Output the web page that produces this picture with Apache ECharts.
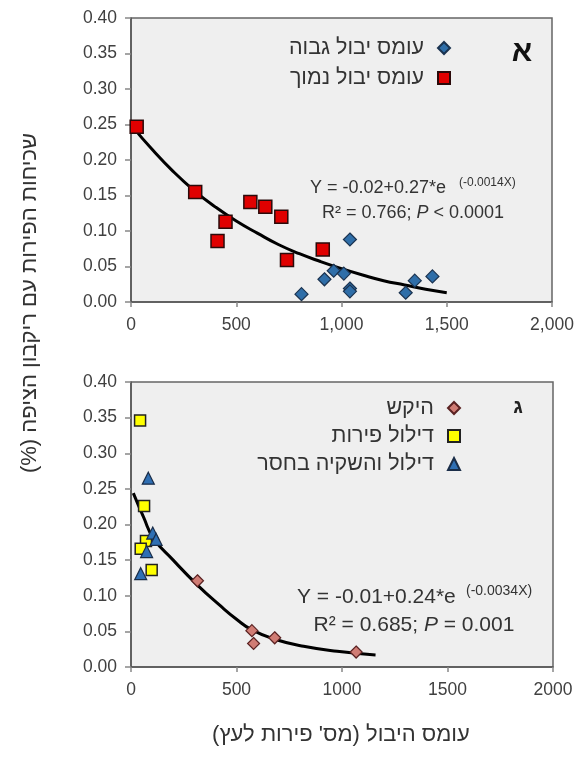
<!DOCTYPE html>
<html>
<head>
<meta charset="utf-8">
<script src="https://cdn.jsdelivr.net/npm/echarts@6/dist/echarts.min.js"></script>
<style>
html,body{margin:0;padding:0;background:#fff;}
#c{width:584px;height:761px;}
</style>
</head>
<body>
<div id="c"></div>
<script>
// ---- Panel A (top) data ----
const highYieldX = [810, 919, 963, 1011, 1040, 1040, 1040, 1305, 1348, 1432];
const highYieldY = [0.011, 0.032, 0.044, 0.040, 0.088, 0.019, 0.015, 0.013, 0.030, 0.036];
const lowYieldX = [27, 305, 411, 449, 567, 638, 714, 741, 911];
const lowYieldY = [0.247, 0.155, 0.086, 0.113, 0.141, 0.134, 0.120, 0.059, 0.074];
const fitTopX = [10, 100, 200, 300, 400, 500, 600, 700, 800, 900, 1000, 1100, 1200, 1300, 1400, 1500];
const fitTopY = [0.246, 0.215, 0.184, 0.157, 0.134, 0.114, 0.097, 0.081, 0.068, 0.057, 0.047, 0.038, 0.030, 0.024, 0.018, 0.013];

// ---- Panel G (bottom) data ----
const controlX = [315, 573, 581, 681, 1067];
const controlY = [0.121, 0.051, 0.033, 0.041, 0.021];
const thinningX = [43, 62, 71, 46, 98];
const thinningY = [0.346, 0.226, 0.177, 0.166, 0.136];
const thinDeficitX = [82, 103, 119, 74, 46];
const thinDeficitY = [0.265, 0.188, 0.179, 0.162, 0.131];
const fitBottomX = [11, 60, 106, 200, 315, 423, 500, 573, 681, 818, 977, 1159];
const fitBottomY = [0.244, 0.210, 0.181, 0.150, 0.115, 0.086, 0.067, 0.052, 0.039, 0.029, 0.022, 0.017];

// ---- tick labels ----
const yTickLabels = ['0.00', '0.05', '0.10', '0.15', '0.20', '0.25', '0.30', '0.35', '0.40'];
const xTickLabelsTop = ['0', '500', '1,000', '1,500', '2,000'];
const xTickLabelsBottom = ['0', '500', '1000', '1500', '2000'];

// ---- text ----
const seriesNames = ['עומס יבול גבוה', 'עומס יבול נמוך', 'היקש', 'דילול פירות', 'דילול והשקיה בחסר'];
const yTitle = 'שכיחות הפירות עם ריקבון הציפה (%)\u200F';
const xTitle = 'עומס היבול (מס\' פירות לעץ)\u200F';

const zip = (xs, ys) => xs.map((x, i) => [x, ys[i]]);
const FONT = 'Liberation Sans, Arial, sans-serif';
const TXT = '#404040';

function xAxisCfg(idx, labels) {
  return {
    gridIndex: idx, type: 'value', min: 0, max: 2000, interval: 500,
    axisLine: {show: true, lineStyle: {color: '#555', width: 1.5}},
    axisTick: {show: true, length: 5, lineStyle: {color: '#888', width: 1.5}},
    splitLine: {show: false},
    axisLabel: {color: TXT, fontFamily: FONT, fontSize: 17.5, margin: 14,
      formatter: v => labels[Math.round(v / 500)]}
  };
}
function yAxisCfg(idx) {
  return {
    gridIndex: idx, type: 'value', min: 0, max: 0.4, interval: 0.05,
    axisLine: {show: true, lineStyle: {color: '#555', width: 1.5}},
    axisTick: {show: true, length: 6, lineStyle: {color: '#888', width: 1.5}},
    splitLine: {show: false},
    axisLabel: {color: TXT, fontFamily: FONT, fontSize: 17.5, margin: 14,
      formatter: v => yTickLabels[Math.round(v / 0.05)]}
  };
}

const chart = echarts.init(document.getElementById('c'), null, {renderer: 'canvas'});
chart.setOption({
  backgroundColor: '#fff',
  animation: false,
  grid: [
    {left: 131, top: 18, width: 421, height: 284, show: true, backgroundColor: '#efefef', borderColor: '#666', borderWidth: 1.5},
    {left: 131, top: 382, width: 422, height: 285, show: true, backgroundColor: '#efefef', borderColor: '#666', borderWidth: 1.5}
  ],
  xAxis: [xAxisCfg(0, xTickLabelsTop), xAxisCfg(1, xTickLabelsBottom)],
  yAxis: [yAxisCfg(0), yAxisCfg(1)],
  legend: [
    {data: [seriesNames[0], seriesNames[1]], orient: 'vertical', align: 'right', right: 133, top: 37,
      padding: 0, itemWidth: 12, itemHeight: 12, itemGap: 8,
      textStyle: {color: '#333', fontFamily: FONT, fontSize: 21.5, lineHeight: 12, padding: [0, 9, 0, 0]}},
    {data: [seriesNames[2], seriesNames[3], seriesNames[4]], orient: 'vertical', align: 'right', right: 123, top: 397,
      padding: 0, itemWidth: 12, itemHeight: 12, itemGap: 6,
      textStyle: {color: '#333', fontFamily: FONT, fontSize: 21.5, lineHeight: 12, padding: [0, 9, 0, 0]}}
  ],
  series: [
    {type: 'line', xAxisIndex: 0, yAxisIndex: 0, data: zip(fitTopX, fitTopY), smooth: true, showSymbol: false, symbol: 'none',
      lineStyle: {color: '#000', width: 3}, z: 2},
    {name: seriesNames[0], type: 'scatter', xAxisIndex: 0, yAxisIndex: 0, data: zip(highYieldX, highYieldY),
      symbol: 'diamond', symbolSize: 13, itemStyle: {color: '#2f6ea8', borderColor: '#1b3350', borderWidth: 1.2, opacity: 1}, z: 3},
    {name: seriesNames[1], type: 'scatter', xAxisIndex: 0, yAxisIndex: 0, data: zip(lowYieldX, lowYieldY),
      symbol: 'rect', symbolSize: 13, itemStyle: {color: '#e00000', borderColor: '#2a0a0a', borderWidth: 1.5, opacity: 1}, z: 3},
    {type: 'line', xAxisIndex: 1, yAxisIndex: 1, data: zip(fitBottomX, fitBottomY), smooth: true, showSymbol: false, symbol: 'none',
      lineStyle: {color: '#000', width: 3}, z: 2},
    {name: seriesNames[2], type: 'scatter', xAxisIndex: 1, yAxisIndex: 1, data: zip(controlX, controlY),
      symbol: 'diamond', symbolSize: 12, itemStyle: {color: '#d07c74', borderColor: '#5a2222', borderWidth: 1.2, opacity: 1}, z: 3},
    {name: seriesNames[3], type: 'scatter', xAxisIndex: 1, yAxisIndex: 1, data: zip(thinningX, thinningY),
      symbol: 'rect', symbolSize: 11, itemStyle: {color: '#ffff00', borderColor: '#222', borderWidth: 1.5, opacity: 1}, z: 3},
    {name: seriesNames[4], type: 'scatter', xAxisIndex: 1, yAxisIndex: 1, data: zip(thinDeficitX, thinDeficitY),
      symbol: 'triangle', symbolSize: 12, itemStyle: {color: '#2f6fb3', borderColor: '#1a2d48', borderWidth: 1.2, opacity: 1}, z: 3}
  ],
  graphic: [
    {type: 'text', x: 522, y: 53, style: {text: 'א', font: 'bold 30px ' + FONT, fill: '#111', align: 'center', verticalAlign: 'middle'}},
    {type: 'text', x: 518, y: 407, style: {text: 'ג', font: 'bold 20px ' + FONT, fill: '#222', align: 'center', verticalAlign: 'middle'}},
    // equation top
    {type: 'text', x: 310, y: 188, style: {text: 'Y = -0.02+0.27*e', font: '18px ' + FONT, fill: '#333', verticalAlign: 'middle', align: 'left'}},
    {type: 'text', x: 459, y: 183, style: {text: '(-0.0014X)', font: '12px ' + FONT, fill: '#333', verticalAlign: 'middle', align: 'left'}},
    {type: 'text', x: 413, y: 213, style: {text: 'R² = 0.766; {i|P} < 0.0001', font: '18px ' + FONT, fill: '#333', verticalAlign: 'middle', align: 'center',
      rich: {i: {fontStyle: 'italic', fontSize: 18, fontFamily: FONT, fill: '#333'}}}},
    // equation bottom
    {type: 'text', x: 297, y: 597, style: {text: 'Y = -0.01+0.24*e', font: '21px ' + FONT, fill: '#333', verticalAlign: 'middle', align: 'left'}},
    {type: 'text', x: 466, y: 591, style: {text: '(-0.0034X)', font: '14px ' + FONT, fill: '#333', verticalAlign: 'middle', align: 'left'}},
    {type: 'text', x: 414, y: 625, style: {text: 'R² = 0.685; {i|P} = 0.001', font: '21px ' + FONT, fill: '#333', verticalAlign: 'middle', align: 'center',
      rich: {i: {fontStyle: 'italic', fontSize: 21, fontFamily: FONT, fill: '#333'}}}},
    // axis titles
    {type: 'text', x: 30, y: 303, rotation: Math.PI / 2, style: {text: yTitle, font: '22px ' + FONT, fill: '#333', align: 'center', verticalAlign: 'middle'}},
    {type: 'text', x: 341, y: 735, style: {text: xTitle, font: '22px ' + FONT, fill: '#333', align: 'center', verticalAlign: 'middle'}}
  ]
});
</script>
</body>
</html>
